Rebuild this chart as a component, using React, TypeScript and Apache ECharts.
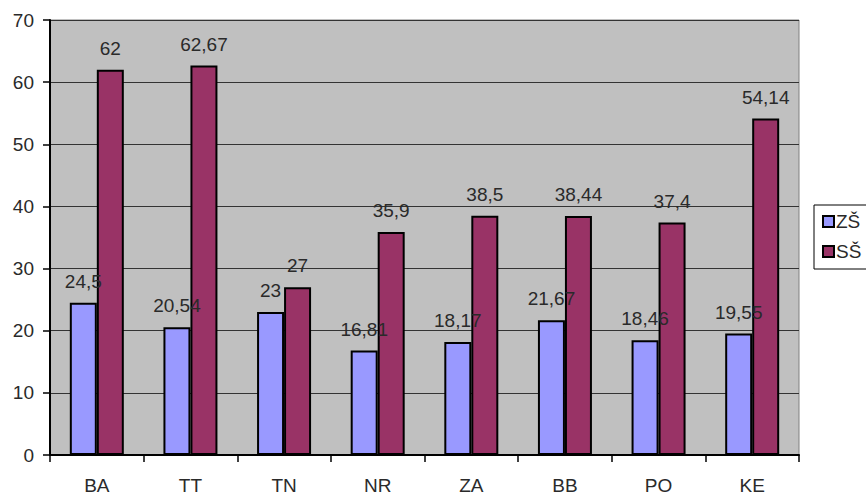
import React, { useEffect, useRef } from "react";
import * as echarts from "echarts";

const categories = ["BA", "TT", "TN", "NR", "ZA", "BB", "PO", "KE"];
const zsValues = [24.5, 20.54, 23, 16.81, 18.17, 21.67, 18.46, 19.55];
const ssValues = [62, 62.67, 27, 35.9, 38.5, 38.44, 37.4, 54.14];
const seriesNames = ["ZŠ", "SŠ"];

const FONT = "'Liberation Sans', Arial, sans-serif";
const TEXT = "#2a2a2a";
const fmt = (v: number) => String(v).replace(".", ",");

export default function App() {
  const ref = useRef<HTMLDivElement>(null);

  useEffect(() => {
    if (!ref.current) return;
    const chart = echarts.init(ref.current, undefined, { renderer: "svg" });
    const label = {
      show: true,
      position: "top" as const,
      distance: 12,
      color: TEXT,
      fontFamily: FONT,
      fontSize: 19,
      formatter: (p: any) => fmt(p.value),
    };
    chart.setOption({
      animation: false,
      backgroundColor: "#fff",
      grid: {
        left: 50,
        top: 20,
        width: 749,
        height: 435,
        show: true,
        backgroundColor: "#C0C0C0",
        borderColor: "#808080",
        borderWidth: 1,
      },
      legend: {
        orient: "vertical",
        left: 814,
        top: 205,
        data: seriesNames,
        itemWidth: 11,
        itemHeight: 11,
        itemGap: 11,
        padding: [7, 30, 8, 8],
        borderColor: "#000",
        borderWidth: 1,
        backgroundColor: "#fff",
        icon: "rect",
        textStyle: { fontFamily: FONT, fontSize: 19, color: TEXT, padding: [0, 0, 0, -3] },
      },
      xAxis: {
        type: "category",
        data: categories,
        axisLine: { lineStyle: { color: "#000", width: 2 } },
        axisTick: { show: true, length: 7, lineStyle: { color: "#000", width: 1.5 } },
        axisLabel: { color: TEXT, fontFamily: FONT, fontSize: 19, margin: 21 },
      },
      yAxis: {
        type: "value",
        min: 0,
        max: 70,
        interval: 10,
        axisLine: { show: true, lineStyle: { color: "#000", width: 2 } },
        axisTick: { show: true, length: 7, lineStyle: { color: "#000", width: 1.5 } },
        axisLabel: { color: TEXT, fontFamily: FONT, fontSize: 19, margin: 16 },
        splitLine: { lineStyle: { color: "#333", width: 1.2 } },
      },
      series: [
        {
          name: seriesNames[0],
          type: "bar",
          data: zsValues,
          barWidth: 27,
          barGap: "0%",
          itemStyle: { color: "#9999FF", borderColor: "#000", borderWidth: 2 },
          label,
        },
        {
          name: seriesNames[1],
          type: "bar",
          data: ssValues,
          barWidth: 27,
          barGap: "0%",
          itemStyle: { color: "#993366", borderColor: "#000", borderWidth: 2 },
          label,
        },
      ],
    });
    return () => chart.dispose();
  }, []);

  return (
    <div
      ref={ref}
      style={{ position: "fixed", left: 0, top: 0, width: 866, height: 496 }}
    />
  );
}
